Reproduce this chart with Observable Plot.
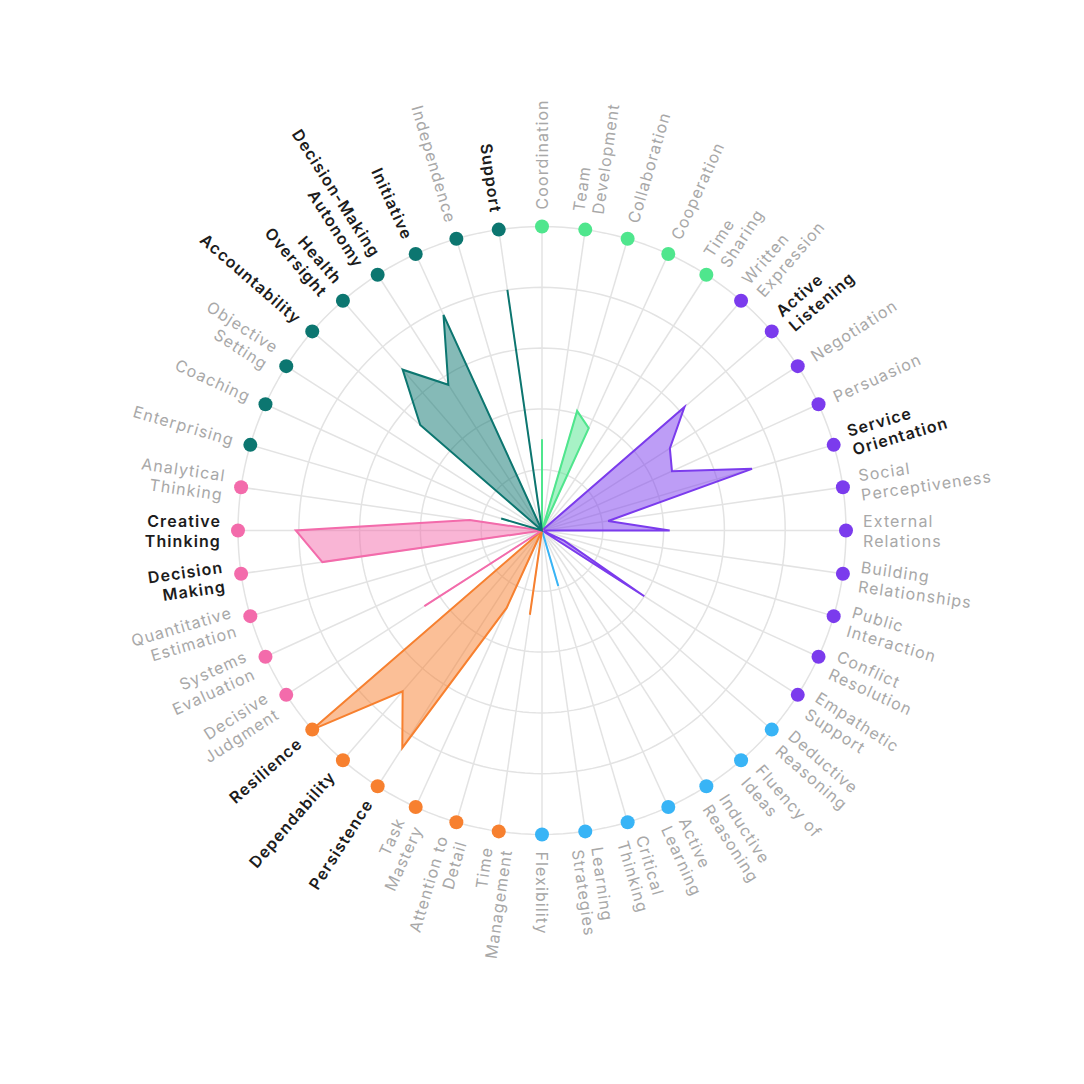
<!DOCTYPE html>
<html><head><meta charset="utf-8">
<script src="https://cdn.jsdelivr.net/npm/d3@7"></script>
<script src="https://cdn.jsdelivr.net/npm/@observablehq/plot@0.6"></script>
<style>
html,body{margin:0;padding:0;background:#fff;}
#chart svg text{letter-spacing:1.1px;}
</style></head><body><div id="chart"></div>
<script>
// ---- data ----
const groupNames = ["Teamwork", "Communication", "Learning", "Work Ethic", "Reasoning", "Leadership"];
const groupColors = ["#4fe68d", "#7b3bed", "#38b4f6", "#f7802f", "#f36bab", "#0c7670"];

const teamworkSkills = ["Coordination", "Team\nDevelopment", "Collaboration", "Cooperation", "Time\nSharing"];
const teamworkValues = [30, 0, 41, 37, 0];

const communicationSkills = ["Written\nExpression", "Active\nListening", "Negotiation", "Persuasion", "Service\nOrientation",
  "Social\nPerceptiveness", "External\nRelations", "Building\nRelationships", "Public\nInteraction", "Conflict\nResolution", "Empathetic\nSupport"];
const communicationValues = [0, 62, 50, 47, 72, 22, 42, 0, 0, 8, 40];

const learningSkills = ["Deductive\nReasoning", "Fluency of\nIdeas", "Inductive\nReasoning", "Active\nLearning", "Critical\nThinking", "Learning\nStrategies", "Flexibility"];
const learningValues = [0, 0, 0, 0, 19, 0, 0];

const workEthicSkills = ["Time\nManagement", "Attention to\nDetail", "Task\nMastery", "Persistence", "Dependability", "Resilience"];
const workEthicValues = [28, 0, 28, 85, 70, 100];

const reasoningSkills = ["Decisive\nJudgment", "Systems\nEvaluation", "Quantitative\nEstimation", "Decision\nMaking", "Creative\nThinking", "Analytical\nThinking"];
const reasoningValues = [46, 0, 0, 73, 81, 24];

const leadershipSkills = ["Enterprising", "Coaching", "Objective\nSetting", "Accountability", "Health\nOversight", "Decision-Making\nAutonomy", "Initiative", "Independence", "Support"];
const leadershipValues = [14, 0, 0, 53, 70, 57, 78, 0, 80];

const highlighted = ["Active\nListening", "Service\nOrientation", "Persistence", "Dependability", "Resilience",
  "Decision\nMaking", "Creative\nThinking", "Accountability", "Health\nOversight", "Decision-Making\nAutonomy", "Initiative", "Support"];

const gridLevels = [20, 40, 60, 80, 100];

// ---- build ----
const groupSkills = [teamworkSkills, communicationSkills, learningSkills, workEthicSkills, reasoningSkills, leadershipSkills];
const groupValues = [teamworkValues, communicationValues, learningValues, workEthicValues, reasoningValues, leadershipValues];

const rows = [];
groupSkills.forEach((list, g) => list.forEach((s, j) => rows.push({skill: s, group: groupNames[g], value: groupValues[g][j]})));
const n = rows.length;
rows.forEach((d, i) => { d.angle = i * 360 / n; d.bold = highlighted.includes(d.skill); });

const rad = a => a * Math.PI / 180;
const px = (v, a) => v / 100 * Math.sin(rad(a));
const py = (v, a) => v / 100 * Math.cos(rad(a));

const rings = gridLevels.flatMap(level => d3.range(0, 360, 2).map(a => ({level, x: px(level, a), y: py(level, a)})));

const polys = groupNames.map((g, gi) => [{x: 0, y: 0}].concat(rows.filter(d => d.group === g).map(d => ({x: px(d.value, d.angle), y: py(d.value, d.angle)}))));

const U = 304; // px per unit radius
const W = 1084, H = 1084, CX = 541.5, CY = 530;
const labelR = 105.6;

const labelOpts = (anchor, rot, color, weight) => ({
  x: d => px(labelR, d.angle), y: d => py(labelR, d.angle), text: "skill",
  rotate: rot, textAnchor: anchor, lineAnchor: "middle", fontSize: 16, lineHeight: 1.22,
  fontFamily: "Inter, 'Noto Sans', sans-serif", fontWeight: weight, fill: color
});

const right = rows.filter(d => d.angle <= 180), left = rows.filter(d => d.angle > 180);

const plot = Plot.plot({
  width: W, height: H, margin: 0,
  x: {domain: [-CX / U, (W - CX) / U], axis: null},
  y: {domain: [-(H - CY) / U, CY / U], axis: null},
  color: {domain: groupNames, range: groupColors},
  marks: [
    Plot.line(rings, {x: "x", y: "y", z: "level", curve: "linear-closed", stroke: "#e3e3e3", strokeWidth: 1.5}),
    Plot.link(rows, {x1: 0, y1: 0, x2: d => px(100, d.angle), y2: d => py(100, d.angle), stroke: "#e3e3e3", strokeWidth: 1.5}),
    ...polys.map((p, gi) => Plot.line(p, {x: "x", y: "y", curve: "linear-closed", stroke: groupColors[gi], fill: groupColors[gi],
      fillOpacity: 0.5, strokeWidth: 2, strokeLinejoin: "miter", strokeMiterlimit: 4})),
    Plot.dot(rows, {x: d => px(100, d.angle), y: d => py(100, d.angle), r: 7, fill: "group"}),
    Plot.text(right.filter(d => !d.bold), labelOpts("start", d => d.angle - 90, "#a8a8a8", 400)),
    Plot.text(right.filter(d => d.bold), labelOpts("start", d => d.angle - 90, "#1c1c1c", 600)),
    Plot.text(left.filter(d => !d.bold), labelOpts("end", d => d.angle - 270, "#a8a8a8", 400)),
    Plot.text(left.filter(d => d.bold), labelOpts("end", d => d.angle - 270, "#1c1c1c", 600))
  ]
});
document.getElementById("chart").appendChild(plot);
</script></body></html>
